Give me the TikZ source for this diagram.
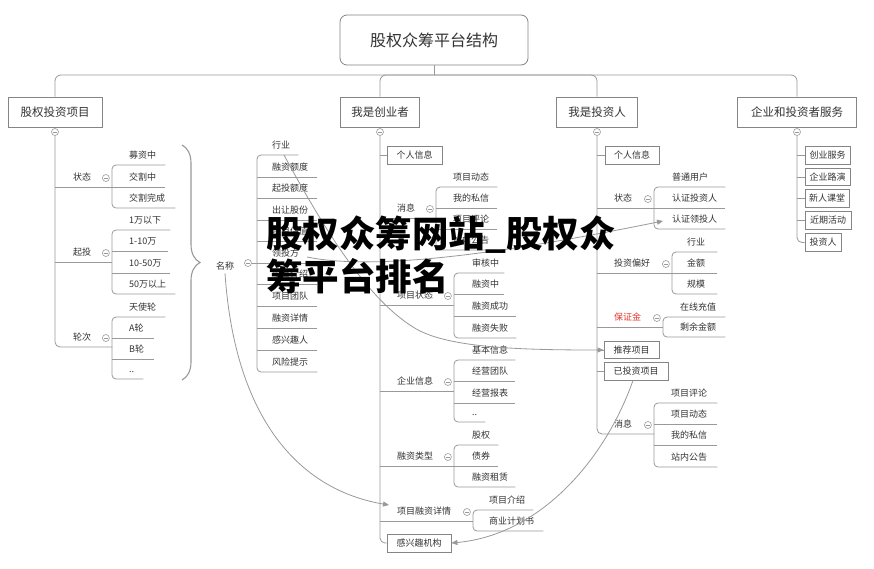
\documentclass[tikz,border=0pt]{standalone}
\usepackage{fontspec}
\setmainfont{Noto Sans CJK SC}
\usetikzlibrary{arrows.meta,decorations.pathreplacing,calc}
\definecolor{lcol}{HTML}{999999}
\definecolor{bcol}{HTML}{858585}
\definecolor{tcol}{HTML}{333333}
\definecolor{redc}{HTML}{E8332A}
\tikzset{
 conn/.style={draw=lcol, line width=0.8pt},
 itm/.style={inner xsep=0pt, inner ysep=0pt, align=left, text=tcol, font=\fontsize{9}{10}\selectfont, text height=7pt, text depth=6.6pt},
 box/.style={draw=bcol, line width=0.8pt, fill=white, text=tcol, font=\fontsize{9}{10}\selectfont, minimum height=18pt, inner xsep=0pt, inner ysep=0pt},
 topbox/.style={box, minimum height=30pt, font=\fontsize{11.5}{13}\selectfont},
 tog/.style={circle, draw=lcol, fill=white, line width=0.6pt, minimum size=7pt, inner sep=0pt,
   path picture={\draw[lcol, line width=0.5pt] ([xshift=-2pt]path picture bounding box.center) -- ([xshift=2pt]path picture bounding box.center);}},
 arr/.style={conn, -{Triangle[length=6pt,width=5pt]}},
}
\newcommand\mitem[6]{\node[itm, text width=#4pt, anchor=south west] (#1) at (#2,#3) {\noindent\hspace*{#5pt}#6};}
\newcommand\brk[3]{% first, last, middle list
  \draw[conn, rounded corners=4pt] (#1.south east) -- (#1.south west) -- (#2.south west) -- (#2.south east);
  \foreach \m in {#3} {\draw[conn] (\m.south west) -- (\m.south east);}}
\newcommand\ptog[2]{\node[tog] (#1) at ([xshift=-6.5pt,yshift=9pt]#2.south east) {};}
\begin{document}
\begin{tikzpicture}[x=1pt,y=-1pt]
\fill[white] (0,0) rectangle (874,568);
\useasboundingbox (0,0) rectangle (874,568);

% title and level 1
\node[draw=bcol, rounded corners=7pt, line width=0.8pt, minimum width=188pt, minimum height=50pt, font=\fontsize{16}{18}\selectfont, text=tcol] (title) at (434,40) {股权众筹平台结构};
\node[topbox, minimum width=94pt] (L1) at (55,112) {股权投资项目};
\node[topbox, minimum width=79pt] (L2) at (380,112) {我是创业者};
\node[topbox, minimum width=81pt] (L3) at (597,112) {我是投资人};
\node[topbox, minimum width=119pt] (L4) at (797,112) {企业和投资者服务};
\coordinate (bus) at (434,75);
\draw[conn] (title.south) -- (bus);
\draw[conn, rounded corners=6pt] (L1.north) |- (bus) -| (L4.north);
\draw[conn, rounded corners=6pt] (L2.north) |- (bus);
\draw[conn, rounded corners=6pt] (L3.north) |- (bus);
\node[tog] (t1) at (55,132) {};
\node[tog] (t2) at (380,132) {};
\node[tog] (t3) at (597,132) {};
\node[tog] (t4) at (797,132) {};

% ===== column 1 =====
\mitem{p11}{55}{187}{57}{18}{状态}
\mitem{p12}{55}{262}{57}{18}{起投}
\mitem{p13}{55}{347}{57}{18}{轮次}
\draw[conn, rounded corners=5pt] (t1.south) |- (p13.south east);
\draw[conn] (t1 |- p11.south west) -- (p11.south east);
\draw[conn] (t1 |- p12.south west) -- (p12.south east);
\ptog{g11}{p11}\ptog{g12}{p12}\ptog{g13}{p13}
\mitem{a1}{112}{165}{53}{17}{募资中}
\mitem{a2}{112}{187}{53}{17}{交割中}
\mitem{a3}{112}{208}{63}{17}{交割完成}
\brk{a1}{a3}{a2}
\mitem{b1}{112}{230}{58}{17}{1万以下}
\mitem{b2}{112}{251}{56}{17}{1-10万}
\mitem{b3}{112}{273}{58}{17}{10-50万}
\mitem{b4}{112}{294}{63}{17}{50万以上}
\brk{b1}{b4}{b2,b3}
\mitem{c1}{112}{317}{53}{17}{天使轮}
\mitem{c2}{112}{338}{42}{17}{A轮}
\mitem{c3}{112}{359}{42}{17}{B轮}
\mitem{c4}{112}{379}{31}{17}{..}
\brk{c1}{c4}{c2,c3}

% brace and 名称
\draw[lcol, line width=1.1pt, decorate, decoration={brace, amplitude=18pt}] (182,145) -- (182,380);
\node[text=tcol, font=\fontsize{9}{10}\selectfont, inner sep=0pt] (nm) at (225,266) {名称};
\node[tog] (gnm) at (248,263) {};
\mitem{n1}{257}{155}{41}{15}{行业}
\mitem{n2}{257}{177}{60}{15}{融资额度}
\mitem{n3}{257}{198}{60}{15}{起投额度}
\mitem{n4}{257}{220}{60}{15}{出让股份}
\mitem{n5}{257}{241}{60}{15}{项目估值}
\mitem{n6}{257}{263}{60}{15}{领投方}
\mitem{n7}{257}{284}{60}{15}{项目介绍}
\mitem{n8}{257}{306}{60}{15}{项目团队}
\mitem{n9}{257}{328}{60}{15}{融资详情}
\mitem{n10}{257}{350}{60}{15}{感兴趣人}
\mitem{n11}{257}{372}{60}{15}{风险提示}
\brk{n1}{n11}{n2,n3,n4,n5,n6,n7,n8,n9,n10}
\draw[conn] (gnm.east) -- (n6.south west);

% ===== column 2 =====
\node[box, minimum width=55pt] (x1) at (414.5,155) {个人信息};
\mitem{p21}{380}{218}{56}{17}{消息}
\mitem{p22}{380}{305}{74}{17}{项目状态}
\mitem{p23}{380}{391}{74}{17}{企业信息}
\mitem{p24}{380}{466}{74}{17}{融资类型}
\mitem{p25}{380}{521}{93}{17}{项目融资详情}
\node[box, minimum width=64pt] (x2) at (419,543) {感兴趣机构};
\draw[conn, rounded corners=5pt] (t2.south) |- (x2.west);
\draw[conn] (t2 |- x1.west) -- (x1.west);
\foreach \p in {p21,p22,p23,p24,p25} {\draw[conn] (t2 |- \p.south west) -- (\p.south east);}
\ptog{g21}{p21}\ptog{g22}{p22}\ptog{g23}{p23}\ptog{g24}{p24}\ptog{g25}{p25}
\mitem{d1}{436}{187}{61}{17}{项目动态}
\mitem{d2}{436}{208}{61}{17}{我的私信}
\mitem{d3}{436}{229}{61}{17}{项目评论}
\mitem{d4}{436}{250}{61}{17}{站内公告}
\brk{d1}{d4}{d2,d3}
\mitem{e1}{454}{273}{50}{18}{审核中}
\mitem{e2}{454}{294}{50}{18}{融资中}
\mitem{e3}{454}{316}{62}{18}{融资成功}
\mitem{e4}{454}{338}{62}{18}{融资失败}
\brk{e1}{e4}{e2,e3}
\mitem{f1}{454}{360}{61}{18}{基本信息}
\mitem{f2}{454}{381}{61}{18}{经营团队}
\mitem{f3}{454}{403}{61}{18}{经营报表}
\mitem{f4}{454}{422}{31}{18}{..}
\brk{f1}{f4}{f2,f3}
\mitem{h1}{454}{445}{44}{18}{股权}
\mitem{h2}{454}{466}{44}{18}{债券}
\mitem{h3}{454}{487}{61}{18}{融资租赁}
\brk{h1}{h3}{h2}
\mitem{k1}{473}{510}{60}{16}{项目介绍}
\mitem{k2}{473}{531}{70}{16}{商业计划书}
\brk{k1}{k2}{}

% ===== column 3 =====
\node[box, minimum width=54pt] (y1) at (632,155) {个人信息};
\mitem{p31}{597}{208}{57}{17}{状态}
\mitem{p32}{597}{273}{75}{17}{投资偏好}
\mitem{p33}{597}{327}{66}{17}{\textcolor{redc}{保证金}}
\node[box, minimum width=55pt, minimum height=17pt] (y2) at (631.5,350) {推荐项目};
\node[box, minimum width=64pt] (y3) at (636,371) {已投资项目};
\mitem{p34}{597}{434}{57}{17}{消息}
\draw[conn, rounded corners=5pt] (t3.south) |- (p34.south east);
\foreach \b in {y1,y2,y3} {\draw[conn] (t3 |- \b.west) -- (\b.west);}
\foreach \p in {p31,p32,p33} {\draw[conn] (t3 |- \p.south west) -- (\p.south east);}
\ptog{g31}{p31}\ptog{g32}{p32}\ptog{g33}{p33}\ptog{g34}{p34}
\mitem{i1}{654}{187}{71}{18}{普通用户}
\mitem{i2}{654}{208}{71}{18}{认证投资人}
\mitem{i3}{654}{229}{71}{18}{认证领投人}
\brk{i1}{i3}{i2}
\mitem{j1}{672}{252}{45}{15}{行业}
\mitem{j2}{672}{273}{45}{15}{金额}
\mitem{j3}{672}{294}{45}{15}{规模}
\brk{j1}{j3}{j2}
\mitem{q1}{663}{317}{62}{17}{在线充值}
\mitem{q2}{663}{337}{62}{17}{剩余金额}
\brk{q1}{q2}{}
\mitem{m1}{654}{403}{63}{17}{项目评论}
\mitem{m2}{654}{424}{63}{17}{项目动态}
\mitem{m3}{654}{445}{63}{17}{我的私信}
\mitem{m4}{654}{467}{63}{17}{站内公告}
\brk{m1}{m4}{m2,m3}

% ===== column 4 =====
\begin{scope}[every node/.append style={font=\fontsize{9.5}{11}\selectfont}]
\node[box, minimum width=45pt, minimum height=17.5pt] (z1) at (827.5,155.5) {创业服务};
\node[box, minimum width=45pt, minimum height=17.5pt] (z2) at (827.5,177) {企业路演};
\node[box, minimum width=44pt, minimum height=17.5pt] (z3) at (827,198.5) {新人课堂};
\node[box, minimum width=46pt, minimum height=17.5pt] (z4) at (828,220.5) {近期活动};
\node[box, minimum width=36pt, minimum height=18.5pt] (z5) at (823,242.5) {投资人};
\end{scope}
\draw[conn, rounded corners=5pt] (t4.south) |- (z5.west);
\foreach \b in {z1,z2,z3,z4} {\draw[conn] (t4 |- \b.west) -- (\b.west);}

% ===== cross links =====
\draw[arr] ($(n1.south west)+(27,0)$) .. controls (330,240) and (370,300) .. (413,327) .. controls (445,348) and (520,350) .. (y2.west);
\draw[arr] ($(n6.south west)+(50,-6)$) .. controls (380,272) and (520,250) .. ($(i3.south west)+(9,-8)$);
\draw[arr] ($(nm.south)+(0,3)$) .. controls (235,420) and (300,490) .. ($(p25.south west)+(9,-16)$);
\draw[arr] ($(y3.south)+(-3,0)$) .. controls (605,460) and (540,535) .. (x2.east);

% watermark
\node[anchor=north west, inner sep=0pt, align=left, text=black, font=\fontsize{36.5}{43}\selectfont\bfseries] (wm) at (266,216) {股权众筹网站\_股权众\\筹平台排名};
\end{tikzpicture}
\end{document}
